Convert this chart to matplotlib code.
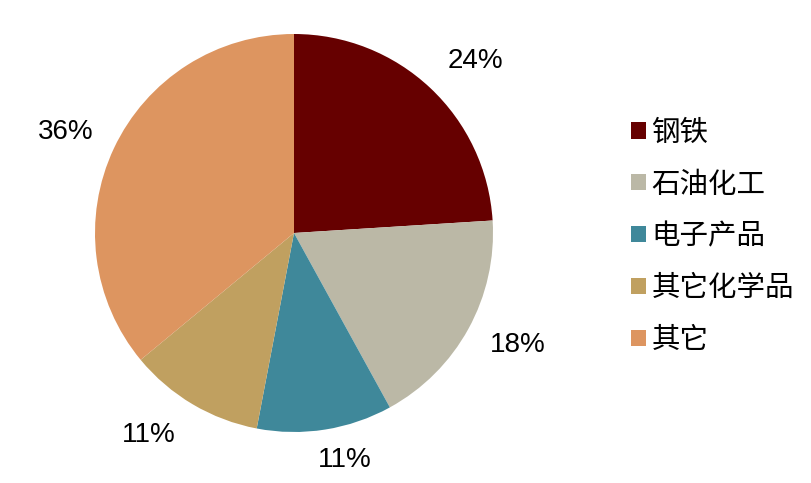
import numpy as np
import matplotlib
matplotlib.use("Agg")
import matplotlib.pyplot as plt
from matplotlib.patches import Rectangle

plt.rcParams["font.family"] = ["Liberation Sans", "Noto Sans CJK SC", "DejaVu Sans"]

# Data
categories = ["钢铁", "石油化工", "电子产品", "其它化学品", "其它"]
shares = [24, 18, 11, 11, 36]
colors = ["#660000", "#BBB8A6", "#3F889A", "#C0A060", "#DD9560"]

# label placement tweaks: distance (in radii) and angular nudge (deg)
label_dist = [1.255, 1.257, 1.168, 1.252, 1.256]
label_nudge = [-3.4, 2.1, 3.6, -5.1, 1.3]

fig = plt.figure(figsize=(8.12, 4.83), dpi=100)
ax = fig.add_axes([95 / 812, 51 / 483, 398 / 812, 398 / 483])

wedges, texts, autotexts = ax.pie(
    shares,
    colors=colors,
    startangle=90,
    counterclock=False,
    autopct="%d%%",
    pctdistance=1.25,
    textprops={"fontsize": 20, "color": "black"},
    wedgeprops={"linewidth": 0},
)
ax.set_xlim(-1, 1)
ax.set_ylim(-1, 1)
ax.set_aspect("equal")

for w, t, d, nd in zip(wedges, autotexts, label_dist, label_nudge):
    ang = np.deg2rad((w.theta1 + w.theta2) / 2 + nd)
    t.set_position((d * np.cos(ang), d * np.sin(ang)))

# Legend with square markers
handles = [Rectangle((0, 0), 1, 1, facecolor=c, edgecolor="none") for c in colors]
leg = fig.legend(
    handles,
    categories,
    loc="upper left",
    bbox_to_anchor=(605 / 812, 1 - 92 / 483),
    frameon=False,
    prop={"family": ["Noto Sans CJK SC"], "size": 20.5},
    handlelength=0.53,
    handleheight=0.49,
    handletextpad=0.2,
    labelspacing=0.77,
)

fig.savefig("out.png", dpi=100)
